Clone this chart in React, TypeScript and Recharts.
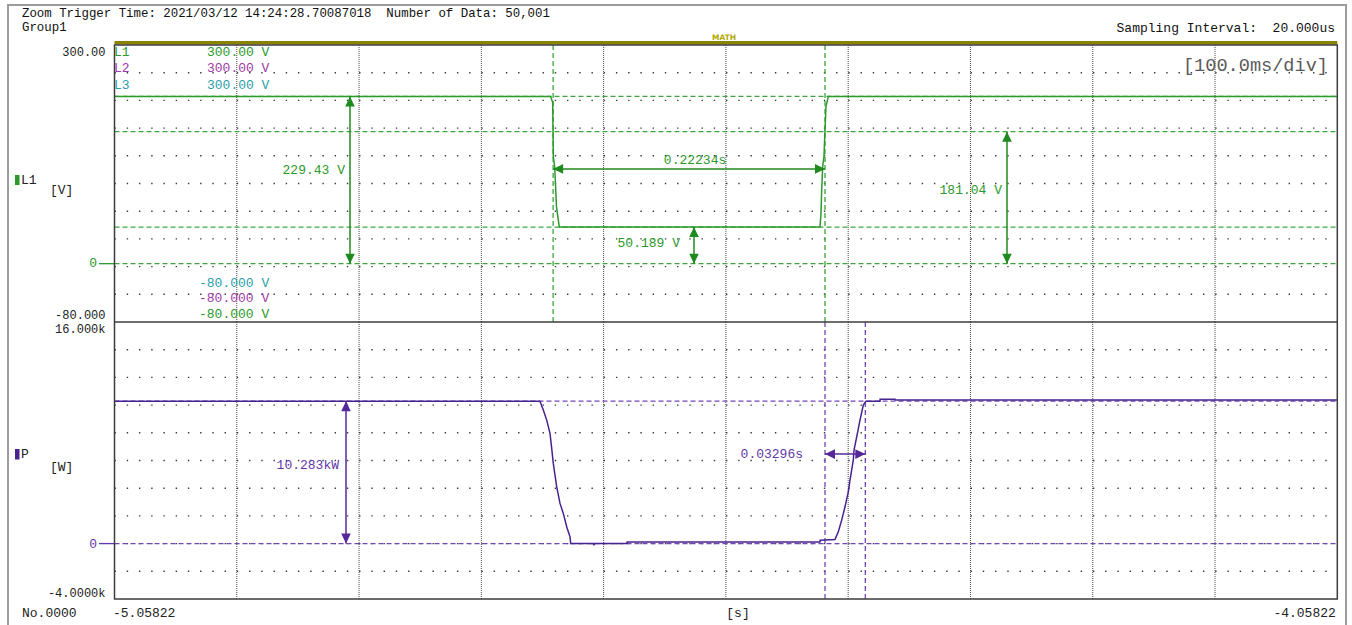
import React from 'react';
import { LineChart, Line, XAxis, YAxis, CartesianGrid, ReferenceLine } from 'recharts';

// ---------- data ----------
// Time axis, 100 ms/div, ten divisions
const T_START = -5.05822;
const T_END = -4.05822;
const timeTicks = [-5.05822, -4.95822, -4.85822, -4.75822, -4.65822, -4.55822, -4.45822, -4.35822, -4.25822, -4.15822, -4.05822];

// L1 voltage trace (s, V)
const l1Time = [-5.05822, -4.7015, -4.69986, -4.69937, -4.69823, -4.69676, -4.69512, -4.69447, -4.48126, -4.48044, -4.47987, -4.47905, -4.47799, -4.47717, -4.47635, -4.47447, -4.05822];
const l1Volts = [229.43, 229.43, 221, 147, 133, 78, 58, 50.189, 50.189, 69.7, 101.7, 133.6, 147.3, 184, 216, 229.43, 229.43];

// P active power trace (s, W)
const pTime = [-5.05822, -4.71025, -4.70755, -4.70477, -4.70207, -4.70068, -4.69937, -4.69659, -4.69389, -4.69119, -4.68841, -4.68571, -4.68514, -4.6664, -4.6661, -4.6658, -4.6391, -4.639, -4.48126, -4.48116, -4.469, -4.4663, -4.46352, -4.46082, -4.45812, -4.45673, -4.45403, -4.45346, -4.45125, -4.44855, -4.44585, -4.44365, -4.4322, -4.4321, -4.41993, -4.41983, -4.05822];
const pWatts = [10283, 10283, 9639, 8917, 7956, 6873, 5790, 4101, 2902, 2180, 1213, 491, 0, 0, -130, 0, 0, 120, 120, 250, 303, 852, 1697, 2657, 3740, 4585, 6029, 6751, 7711, 8917, 10000, 10283, 10283, 10420, 10420, 10360, 10360];

// Voltage panel scale
const voltDomain = [-80, 300];
const voltGrid = [-42, -4, 34, 72, 110, 148, 186, 224, 262];
const voltTicks = [300, 0, -80];
const voltTickLabels = ['300.00', '0', '-80.000'];

// Power panel scale
const powerDomain = [-4000, 16000];
const powerGrid = [-2000, 0, 2000, 4000, 6000, 8000, 10000, 12000, 14000];
const powerTicks = [16000, 0, -4000];
const powerTickLabels = ['16.000k', '0', '-4.0000k'];

// Cursors
const voltCursors = [229.43, 181.04, 50.189, 0];
const powerCursors = [10283, 0];
const cursorT1 = -4.69951;
const cursorSpan1 = 0.22234;
const cursorSpan2 = 0.03296;
const cursorT2 = cursorT1 + cursorSpan1;
const cursorT3 = cursorT2 + cursorSpan2;

// Vertical measurements: time of the arrow, from level, to level
const voltMeasureTimes = [-4.86563, -4.58431, -4.32834];
const voltMeasureFrom = [0, 0, 0];
const voltMeasureTo = [229.43, 50.189, 181.04];
const powerMeasureTime = -4.8689;
const powerMeasureFrom = 0;
const powerMeasureTo = 10283;
// levels at which the time spans are drawn
const timeSpanVolt = 130;
const timeSpanWatt = 6462;

const channels = ['L1', 'L2', 'L3'];

// ---------- layout ----------
const W = 1352;
const H = 625;
const FONT = '"Liberation Mono", "DejaVu Sans Mono", monospace';
const PLOT_LEFT = 114.5;
const PLOT_RIGHT = 1337.3;
const TOP_Y = 45;
const MID_Y = 322;
const BOT_Y = 599;
const Y_AXIS_W = 100;
const X_AXIS_H = 20;

const GREEN_LINE = '#2b9a2b';
const GREEN_CURSOR = '#3ca63c';
const GREEN_TEXT = '#2a992a';
const GREEN_ARROW = '#1f8a1f';
const PURPLE_LINE = '#48228f';
const PURPLE_CURSOR = '#7446b5';
const PURPLE_TEXT = '#6236a8';
const PURPLE_ARROW = '#55289a';
const L2_COLOR = '#a03aa6';
const L3_COLOR = '#2ba0aa';
const channelColors = [GREEN_TEXT, L2_COLOR, L3_COLOR];

const l1Data = l1Time.map((t, i) => ({ t, v: l1Volts[i] }));
const pData = pTime.map((t, i) => ({ t, w: pWatts[i] }));

const pre: React.CSSProperties = { whiteSpace: 'pre' };

type LabelLayout = { anchor: 'start' | 'middle' | 'end'; dx: number; dy: number; ref: 'mid' | 'left' };

function headPoints(tx: number, ty: number, ux: number, uy: number, len: number, half: number) {
  const bx = tx - ux * len;
  const by = ty - uy * len;
  const px = -uy;
  const py = ux;
  return `${tx},${ty} ${bx + px * half},${by + py * half} ${bx - px * half},${by - py * half}`;
}

const measureShape = (text: string, color: string, textColor: string, layout: LabelLayout) => (props: any) => {
  const { x1, y1, x2, y2 } = props;
  const dx = x2 - x1;
  const dy = y2 - y1;
  const len = Math.hypot(dx, dy) || 1;
  const ux = dx / len;
  const uy = dy / len;
  const rx = layout.ref === 'mid' ? (x1 + x2) / 2 : Math.min(x1, x2);
  const ry = (y1 + y2) / 2;
  return (
    <g>
      <line x1={x1} y1={y1} x2={x2} y2={y2} stroke={color} strokeWidth={1.5} />
      <polygon points={headPoints(x2, y2, ux, uy, 10, 4.8)} fill={color} />
      <polygon points={headPoints(x1, y1, -ux, -uy, 10, 4.8)} fill={color} />
      <text x={rx + layout.dx} y={ry + layout.dy} textAnchor={layout.anchor} dominantBaseline="central"
        fontFamily={FONT} fontSize={13} fill={textColor}>{text}</text>
    </g>
  );
};

const voltMeasureLayout: LabelLayout[] = [
  { anchor: 'end', dx: -5, dy: -9.5, ref: 'mid' },
  { anchor: 'end', dx: -14, dy: -1.5, ref: 'mid' },
  { anchor: 'end', dx: -5, dy: -7, ref: 'mid' },
];

const makeYTick = (ticks: number[], labels: string[], offsets: number[], zeroColor: string) => (props: any) => {
  const { x, y, payload } = props;
  const idx = ticks.indexOf(payload.value);
  if (idx < 0) return <g />;
  const isZero = payload.value === 0;
  return (
    <g>
      {isZero && <line x1={x - 15.5} y1={y} x2={x} y2={y} stroke={zeroColor} strokeWidth={1.3} />}
      <text x={isZero ? x - 17.5 : x - 9} y={y + offsets[idx]} textAnchor="end" dominantBaseline="central"
        fontFamily={FONT} fontSize={isZero ? 13 : 12} fill={isZero ? zeroColor : '#222'}>{labels[idx]}</text>
    </g>
  );
};

const voltTick = makeYTick(voltTicks, voltTickLabels, [8, 0, -6.5], GREEN_TEXT);
const powerTick = makeYTick(powerTicks, powerTickLabels, [7.5, 1, -5], PURPLE_TEXT);

const timeTick = (props: any) => {
  const { x, y, index } = props;
  const last = timeTicks.length - 1;
  if (index !== 0 && index !== last) return <g />;
  return (
    <text x={x - 1.5} y={y + 14} textAnchor={index === 0 ? 'start' : 'end'}
      dominantBaseline="central" fontFamily={FONT} fontSize={13} fill="#222">
      {timeTicks[index].toFixed(5)}
    </text>
  );
};

const fmtSec = (s: number) => `${s.toFixed(5)}s`;
const fmtVolt = (v: number) => `${v.toPrecision(5)} V`;
const fmtKw = (w: number) => `${(w / 1000).toFixed(3)}kW`;

const chartBox: React.CSSProperties = { position: 'absolute', left: 0, top: 0 };

export default function App() {
  return (
    <div style={{ position: 'absolute', left: 0, top: 0, width: W, height: H, background: '#ffffff', overflow: 'hidden' }}>
      {/* L1 voltage panel */}
      <div style={chartBox}>
        <LineChart width={W} height={H} data={l1Data}
          margin={{ top: TOP_Y, right: W - PLOT_RIGHT, bottom: H - MID_Y, left: PLOT_LEFT - Y_AXIS_W }}>
          <XAxis type="number" dataKey="t" domain={[T_START, T_END]} ticks={timeTicks} allowDataOverflow hide />
          <YAxis type="number" domain={voltDomain} ticks={voltTicks} allowDataOverflow width={Y_AXIS_W}
            axisLine={false} tickLine={false} tickSize={0} tickMargin={0} interval={0} tick={voltTick} />
          <CartesianGrid horizontal={false} verticalValues={timeTicks.slice(1, -1)} stroke="#4a4a4a" strokeDasharray="1 1" />
          <CartesianGrid vertical={false} horizontalValues={voltGrid} stroke="#3a3a3a" strokeWidth={1.4} strokeDasharray="1.4 10.83" />
          {voltCursors.map((v) => (
            <ReferenceLine key={`vc${v}`} y={v} stroke={GREEN_CURSOR} strokeWidth={1.3} strokeDasharray="5 3" />
          ))}
          <ReferenceLine x={cursorT1} stroke={GREEN_CURSOR} strokeWidth={1.3} strokeDasharray="5 3" />
          <ReferenceLine x={cursorT2} stroke={GREEN_CURSOR} strokeWidth={1.3} strokeDasharray="5 3" />
          <Line type="linear" dataKey="v" stroke={GREEN_LINE} strokeWidth={1.5} dot={false} isAnimationActive={false} />
          {voltMeasureTimes.map((t, i) => (
            <ReferenceLine key={`vm${i}`}
              segment={[{ x: t, y: voltMeasureFrom[i] }, { x: t, y: voltMeasureTo[i] }]}
              shape={measureShape(fmtVolt(voltMeasureTo[i] - voltMeasureFrom[i]), GREEN_ARROW, GREEN_TEXT, voltMeasureLayout[i])} />
          ))}
          <ReferenceLine
            segment={[{ x: cursorT1, y: timeSpanVolt }, { x: cursorT2, y: timeSpanVolt }]}
            shape={measureShape(fmtSec(cursorSpan1), GREEN_ARROW, GREEN_TEXT, { anchor: 'middle', dx: 6, dy: -8, ref: 'mid' })} />
        </LineChart>
      </div>

      {/* P active power panel */}
      <div style={chartBox}>
        <LineChart width={W} height={H} data={pData}
          margin={{ top: MID_Y, right: W - PLOT_RIGHT, bottom: H - BOT_Y - X_AXIS_H, left: PLOT_LEFT - Y_AXIS_W }}>
          <XAxis type="number" dataKey="t" domain={[T_START, T_END]} ticks={timeTicks} allowDataOverflow height={X_AXIS_H}
            axisLine={false} tickLine={false} tickSize={0} tickMargin={0} interval={0} tick={timeTick} />
          <YAxis type="number" domain={powerDomain} ticks={powerTicks} allowDataOverflow width={Y_AXIS_W}
            axisLine={false} tickLine={false} tickSize={0} tickMargin={0} interval={0} tick={powerTick} />
          <CartesianGrid horizontal={false} verticalValues={timeTicks.slice(1, -1)} stroke="#4a4a4a" strokeDasharray="1 1" />
          <CartesianGrid vertical={false} horizontalValues={powerGrid} stroke="#3a3a3a" strokeWidth={1.4} strokeDasharray="1.4 10.83" />
          {powerCursors.map((w) => (
            <ReferenceLine key={`pc${w}`} y={w} stroke={PURPLE_CURSOR} strokeWidth={1.3} strokeDasharray="5 3" />
          ))}
          <ReferenceLine x={cursorT2} stroke={PURPLE_CURSOR} strokeWidth={1.3} strokeDasharray="5 3" />
          <ReferenceLine x={cursorT3} stroke={PURPLE_CURSOR} strokeWidth={1.3} strokeDasharray="5 3" />
          <Line type="linear" dataKey="w" stroke={PURPLE_LINE} strokeWidth={1.5} dot={false} isAnimationActive={false} />
          <ReferenceLine
            segment={[{ x: powerMeasureTime, y: powerMeasureFrom }, { x: powerMeasureTime, y: powerMeasureTo }]}
            shape={measureShape(fmtKw(powerMeasureTo - powerMeasureFrom), PURPLE_ARROW, PURPLE_TEXT, { anchor: 'end', dx: -7, dy: -7, ref: 'mid' })} />
          <ReferenceLine
            segment={[{ x: cursorT2, y: timeSpanWatt }, { x: cursorT3, y: timeSpanWatt }]}
            shape={measureShape(fmtSec(cursorSpan2), PURPLE_ARROW, PURPLE_TEXT, { anchor: 'end', dx: -22, dy: 0, ref: 'left' })} />
        </LineChart>
      </div>

      {/* frame, header and channel captions */}
      <svg width={W} height={H} style={{ position: 'absolute', left: 0, top: 0, pointerEvents: 'none' }}>
        <polyline points={`8,${H} 8,5 1346,5 1346,${H}`} fill="none" stroke="#9c9c9c" strokeWidth={2} />
        <g fontFamily={FONT} fill="#111">
          <text x={22} y={14} fontSize={12.4} dominantBaseline="central" style={pre}>Zoom Trigger Time: 2021/03/12 14:24:28.70087018  Number of Data: 50,001</text>
          <text x={22} y={27.5} fontSize={12.4} dominantBaseline="central">Group1</text>
          <text x={1335} y={28.5} fontSize={13} textAnchor="end" dominantBaseline="central" style={pre}>Sampling Interval:  20.000us</text>
        </g>
        <rect x={PLOT_LEFT} y={41} width={PLOT_RIGHT - PLOT_LEFT} height={3.5} fill="#8a8300" />
        <text x={724} y={37} fontSize={7.5} fontWeight="bold" fontFamily="DejaVu Sans" fill="#b0a800" textAnchor="middle" dominantBaseline="central">MATH</text>
        <rect x={PLOT_LEFT} y={TOP_Y} width={PLOT_RIGHT - PLOT_LEFT} height={BOT_Y - TOP_Y} fill="none" stroke="#3c3c3c" strokeWidth={1.5} />
        <line x1={PLOT_LEFT} y1={MID_Y} x2={PLOT_RIGHT} y2={MID_Y} stroke="#3c3c3c" strokeWidth={1.5} />
        <text x={1328} y={66} fontSize={18.6} fontFamily={FONT} fill="#5a5a5a" textAnchor="end" dominantBaseline="central">[100.0ms/div]</text>

        {/* channel range legend */}
        {channels.map((c, i) => (
          <g key={c} fontFamily={FONT} fontSize={13} fill={channelColors[i]}>
            <text x={114} y={52 + i * 16.5} dominantBaseline="central">{c}</text>
            <text x={207} y={52 + i * 16.5} dominantBaseline="central">{`${voltDomain[1].toFixed(2)} V`}</text>
            <text x={199} y={314 - i * 15.5} dominantBaseline="central">{`${voltDomain[0].toFixed(3)} V`}</text>
          </g>
        ))}

        {/* panel captions */}
        <rect x={15} y={175} width={4.5} height={10} fill={GREEN_LINE} />
        <text x={21} y={180} fontSize={13} fontFamily={FONT} fill="#222" dominantBaseline="central">L1</text>
        <text x={50} y={190} fontSize={13} fontFamily={FONT} fill="#222" dominantBaseline="central">[V]</text>
        <rect x={15} y={449} width={4.5} height={10.5} fill={PURPLE_LINE} />
        <text x={21} y={454} fontSize={13} fontFamily={FONT} fill="#222" dominantBaseline="central">P</text>
        <text x={50} y={467} fontSize={13} fontFamily={FONT} fill="#222" dominantBaseline="central">[W]</text>

        <text x={22} y={613} fontSize={13} fontFamily={FONT} fill="#222" dominantBaseline="central">No.0000</text>
        <text x={738} y={613} fontSize={13} fontFamily={FONT} fill="#222" textAnchor="middle" dominantBaseline="central">[s]</text>
      </svg>
    </div>
  );
}
